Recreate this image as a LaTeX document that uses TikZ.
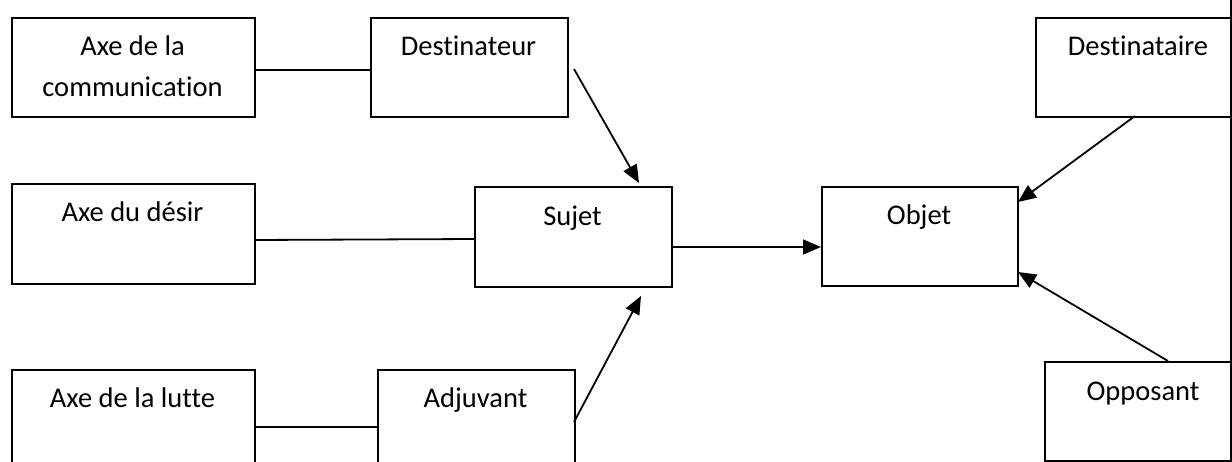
\documentclass[tikz,border=0pt]{standalone}
\usepackage{fontspec}
\setmainfont{Carlito}[Ligatures=NoCommon]
\usetikzlibrary{arrows.meta}
\begin{document}
\begin{tikzpicture}[x=1pt,y=-1pt,
  box/.style={draw, line width=1.8pt, rectangle, inner sep=0pt, anchor=north west},
  lbl/.style={font=\fontsize{28.5}{40}\selectfont, anchor=base, inner sep=0pt},
  conn/.style={line width=1.8pt},
  arr/.style={conn, -{Triangle[length=18pt,width=15pt]}}]
\useasboundingbox (0,0) rectangle (1232,461);
\clip (0,0) rectangle (1232,461);
% boxes
\node[box, minimum width=243pt, minimum height=99pt] (a1) at (11,17) {};
\node[box, minimum width=197pt, minimum height=99pt] (dr) at (370,17) {};
\node[box, minimum width=243pt, minimum height=100pt] (a2) at (11,183) {};
\node[box, minimum width=197pt, minimum height=100pt] (su) at (474,186) {};
\node[box, minimum width=196pt, minimum height=99pt] (ob) at (821,186) {};
\node[box, minimum width=197pt, minimum height=99pt] (de) at (1035,17) {};
\node[box, minimum width=243pt, minimum height=100pt] (a3) at (11,369) {};
\node[box, minimum width=197pt, minimum height=100pt] (ad) at (377,369) {};
\node[box, minimum width=188pt, minimum height=99pt] (op) at (1044,361) {};
% labels
\node[lbl] (t1a) at (132.5,55) {Axe de la};
\node[lbl] (t1b) at (132.5,96) {communication};
\node[lbl] (t2) at (468.5,55) {Destinateur};
\node[lbl] (t3) at (132.5,221) {Axe du désir};
\node[lbl] (t4) at (572.5,225) {Sujet};
\node[lbl] (t5) at (919,224) {Objet};
\node[lbl] (t6) at (1138,55) {Destinataire};
\node[lbl] (t7) at (132.5,407) {Axe de la lutte};
\node[lbl] (t8) at (475.5,407) {Adjuvant};
\node[lbl] (t9) at (1143,400) {Opposant};
% right edge
\coordinate (re1) at (1231,0);
\coordinate (re2) at (1231,461);
\draw[conn] (re1) -- (re2);
% connectors
\coordinate (c1) at (254,70);
\coordinate (c2) at (370,70);
\draw[conn] (c1) -- (c2);
\coordinate (c3) at (254,240);
\coordinate (c4) at (474,239);
\draw[conn] (c3) -- (c4);
\coordinate (c5) at (254,427);
\coordinate (c6) at (377,427);
\draw[conn] (c5) -- (c6);
\coordinate (d1) at (574,69);
\coordinate (d2) at (639,183);
\draw[arr] (d1) -- (d2);
\coordinate (s1) at (671,247);
\coordinate (s2) at (821,247);
\draw[arr] (s1) -- (s2);
\coordinate (j1) at (574,422);
\coordinate (j2) at (641,296);
\draw[arr] (j1) -- (j2);
\coordinate (e1) at (1135,116);
\coordinate (e2) at (1018,202);
\draw[arr] (e1) -- (e2);
\coordinate (o1) at (1168,361);
\coordinate (o2) at (1018,272);
\draw[arr] (o1) -- (o2);
\end{tikzpicture}
\end{document}
